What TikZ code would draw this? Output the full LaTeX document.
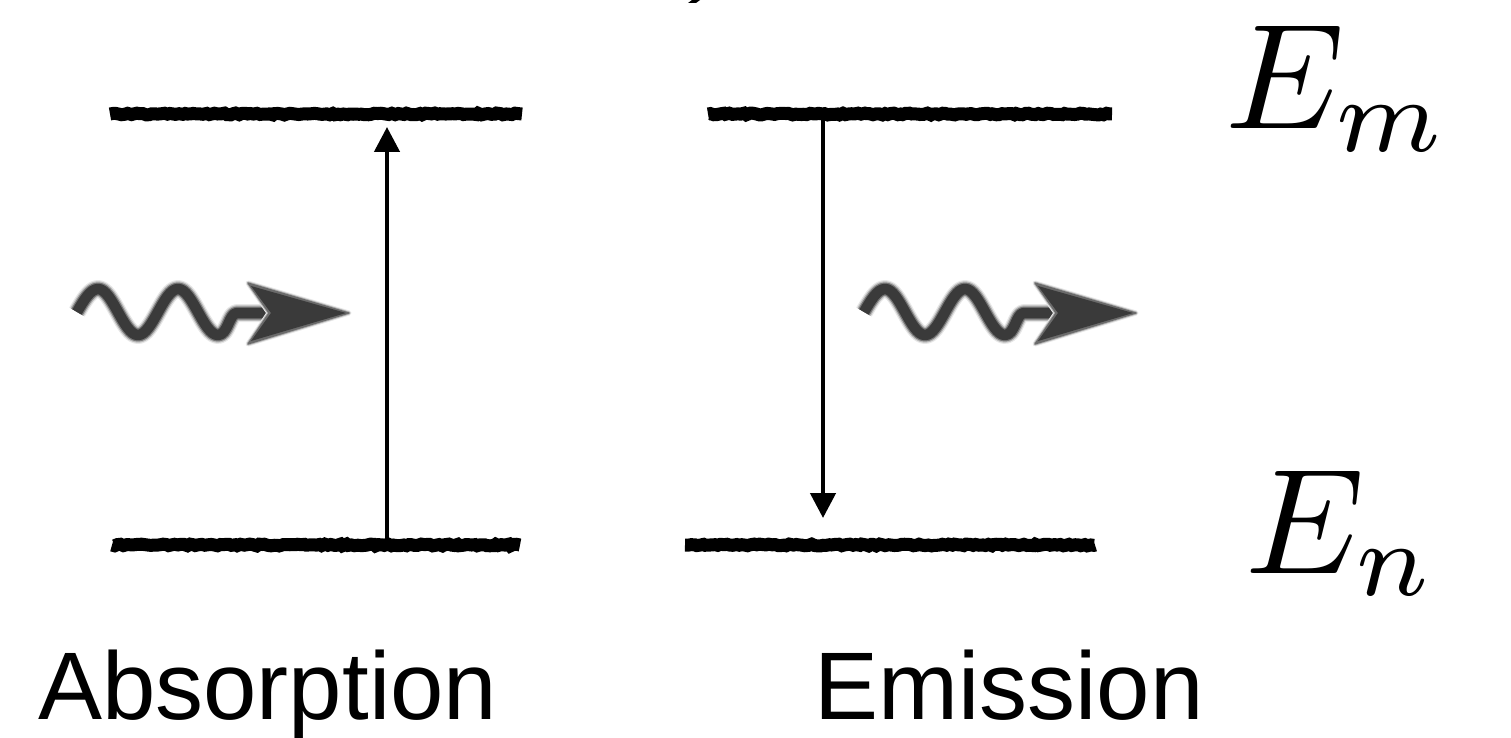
\documentclass[tikz,border=0pt]{standalone}
\usepackage{fontspec}
\usepackage{graphicx}
\newfontfamily\labelfont{Liberation Sans}
\usetikzlibrary{arrows.meta,decorations.pathmorphing}

\definecolor{photon}{HTML}{3A3A3A}

\tikzset{
  level/.style={line width=13pt, black,
    decorate, decoration={random steps, segment length=3pt, amplitude=0.9pt}},
  transition/.style={line width=4.5pt, black,
    -{Triangle[length=25pt,width=25pt]}},
  photonpath/.style={line join=round, line cap=butt},
  caption/.style={anchor=base west, inner sep=0pt, font=\labelfont\fontsize{96}{100}\selectfont},
  energy/.style={anchor=base west, inner sep=0pt},
}

% one stroke of the wavy photon line
\newcommand{\wave}[2]{%
  \draw[photonpath, line width=#1, #2] (0,0) sin (21,-23) cos (41,0) sin (61,23) cos (81,0)
    sin (101,-23) cos (121,0) sin (141,23) .. controls (151,23) and (152,1) .. (160,1) -- (190,1);}

% soft-edged wavy photon arrow, drawn from its left end at (#1,#2)
\newcommand{\photonarrow}[2]{%
  \begin{scope}[shift={(#1,#2)}]
    \wave{18pt}{photon!12}
    \wave{15.5pt}{photon!35}
    \wave{13pt}{photon!70}
    \wave{10.5pt}{photon}
    \filldraw[photon!12, line width=5pt, line join=round] (171,-29) -- (272,1) -- (171,32) -- (192,1) -- cycle;
    \filldraw[photon!40, line width=3pt, line join=round] (171,-29) -- (272,1) -- (171,32) -- (192,1) -- cycle;
    \filldraw[photon!75, line width=1.2pt, line join=round] (171,-29) -- (272,1) -- (171,32) -- (192,1) -- cycle;
    \fill[photon] (174,-26) -- (269,1) -- (174,29) -- (194,1) -- cycle;
  \end{scope}}

\begin{document}
\begin{tikzpicture}[x=1pt,y=-1pt]
  \useasboundingbox (0,0) rectangle (1511,738);

  % stray mark at the top edge
  \fill (688,3) -- (692,0) -- (700,0) -- (696,3) -- cycle;

  % energy levels
  \coordinate (aTopL) at (110,114);  \coordinate (aTopR) at (522,114);
  \coordinate (aBotL) at (112,545);  \coordinate (aBotR) at (520,545);
  \coordinate (eTopL) at (708,114);  \coordinate (eTopR) at (1112,114);
  \coordinate (eBotL) at (685,545);  \coordinate (eBotR) at (1095,545);
  \draw[level] (aTopL) -- (aTopR);
  \draw[level] (aBotL) -- (aBotR);
  \draw[level] (eTopL) -- (eTopR);
  \draw[level] (eBotL) -- (eBotR);

  % transitions
  \coordinate (absFrom) at (387,541);
  \coordinate (absTo)   at (387,127);
  \coordinate (emFrom)  at (823,118);
  \coordinate (emTo)    at (823,518);
  \draw[transition] (absFrom) -- (absTo);
  \draw[transition] (emFrom) -- (emTo);

  % photons
  \photonarrow{77}{312}
  \photonarrow{864}{312}

  % energy labels
  \node[energy] (Em) at (1225,129) {\scalebox{15}{$E_m$}};
  \node[energy] (En) at (1245,573) {\scalebox{15}{$E_n$}};

  % captions
  \node[caption] (abs) at (38,719) {Absorption};
  \node[caption] (em)  at (814,719) {Emission};
\end{tikzpicture}
\end{document}
